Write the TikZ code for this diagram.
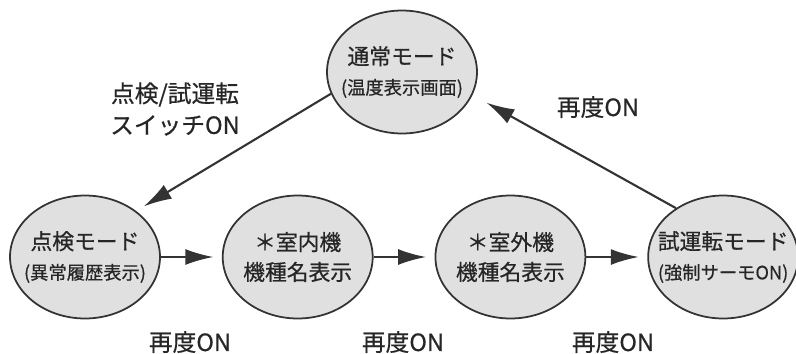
\documentclass[tikz,border=0pt]{standalone}
\usepackage{fontspec}
\setmainfont{Noto Sans CJK JP}[FakeBold=0.6]
\usetikzlibrary{arrows.meta,chains,positioning,shapes.geometric}
\newcommand{\SubLine}[1]{{\fontsize{10.4pt}{17pt}\selectfont #1}}
\tikzset{
    line gray/.style = {
        draw = black!80,
        line width = 1pt,
        },
    mode text/.style = {
        text = black!85,
        align = center,
        font = \fontsize{12.4pt}{17pt}\selectfont,
        },
    label text/.style = {
        text = black!85,
        align = center,
        font = \fontsize{13.5pt}{18pt}\selectfont,
        },
}
\begin{document}
\begin{tikzpicture}[
            x=0.02cm, y=-0.02cm,
            start chain = going right,
            ModeBlock/.style={ellipse, line gray, mode text, fill=black!12, minimum width=3cm, minimum height=2.46cm, inner xsep=-1cm, inner ysep=-0.5cm},
            Link/.style={line gray, line width=1.2pt, -{Latex[length=0.56cm, width=0.32cm]}, shorten >=0.17cm},
            node distance=1.22cm
            ]
            \useasboundingbox (0,0) rectangle (796,353);
            {
            \node [ModeBlock] (normal) at (402,72) {通常モード\\\SubLine{(温度表示画面)}};

            \node [ModeBlock, on chain] (check) at (85,257) {点検モード\\\SubLine{(異常履歴表示)}};
            \node [ModeBlock, on chain] (indoor) {＊室内機\\機種名表示};
            \node [ModeBlock, on chain] (outdoor) {＊室外機\\機種名表示};
            \node [ModeBlock, on chain] (trial) {試運転モード\\\SubLine{(強制サーモON)}};

            \node [label text] (switch) at (175,109) {点検/試運転\\スイッチON};
            \node [label text] (again0) at (598,107) {再度ON};
            \node [label text] (again1) at (190,342) {再度ON};
            \node [label text] (again2) at (403,342) {再度ON};
            \node [label text] (again3) at (613,342) {再度ON};

            \draw[Link, shorten >=0.18cm] (normal.197) -- (check.42);
            \draw[Link] (check.east) -- (indoor.west);
            \draw[Link] (indoor.east) -- (outdoor.west);
            \draw[Link] (outdoor.east) -- (trial.west);
            \draw[Link, shorten >=0.32cm] (trial.134) -- (normal.342);
            }
        \end{tikzpicture}
\end{document}
